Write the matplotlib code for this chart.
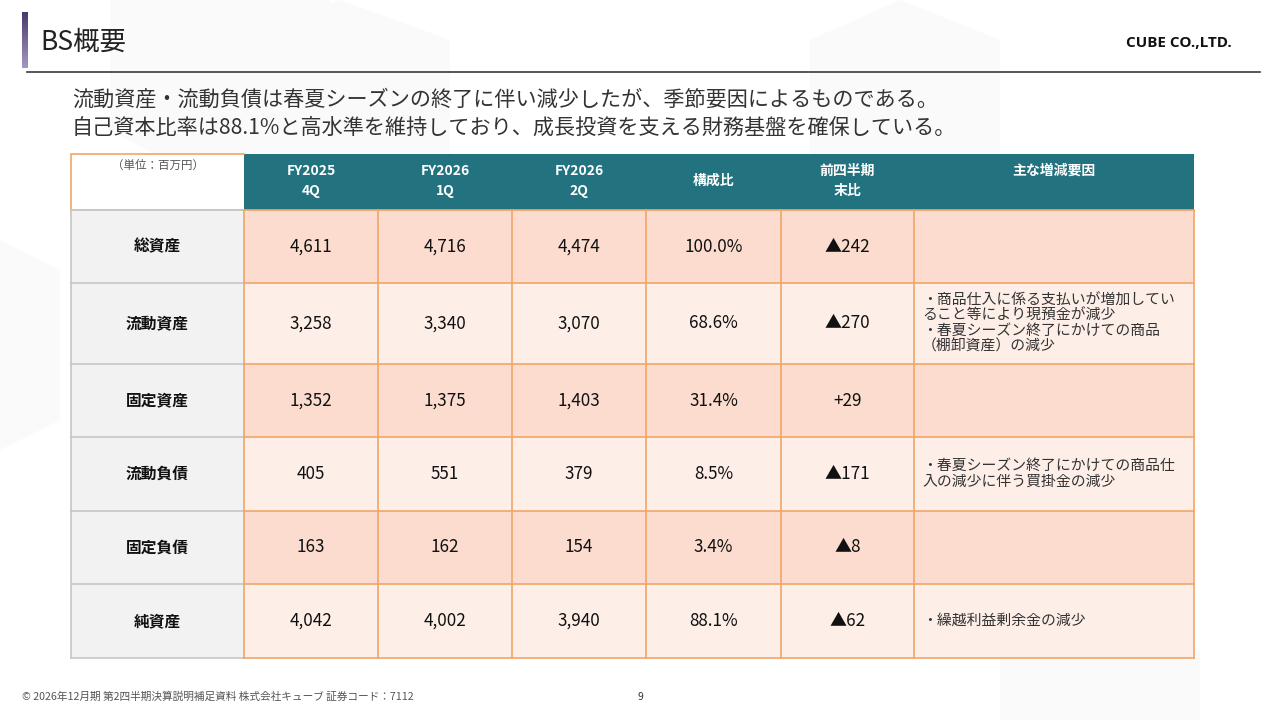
import numpy as np
import matplotlib.pyplot as plt
from matplotlib.patches import Rectangle, Polygon
from matplotlib.colors import LinearSegmentedColormap

plt.rcParams['font.family'] = ['Noto Sans CJK JP', 'DejaVu Sans']

# Table data (単位：百万円)
items = ["総資産", "流動資産", "固定資産", "流動負債", "固定負債", "純資産"]
fy2025_4q = [4611, 3258, 1352, 405, 163, 4042]
fy2026_1q = [4716, 3340, 1375, 551, 162, 4002]
fy2026_2q = [4474, 3070, 1403, 379, 154, 3940]
ratio = [100.0, 68.6, 31.4, 8.5, 3.4, 88.1]
qoq = [-242, -270, 29, -171, -8, -62]
notes = [
    "",
    "・商品仕入に係る支払いが増加してい\nること等により現預金が減少\n・春夏シーズン終了にかけての商品\n（棚卸資産）の減少",
    "",
    "・春夏シーズン終了にかけての商品仕\n入の減少に伴う買掛金の減少",
    "",
    "・繰越利益剰余金の減少",
]
headers = ["FY2025\n4Q", "FY2026\n1Q", "FY2026\n2Q", "構成比", "前四半期\n末比", "主な増減要因"]

title = "BS概要"
company = "CUBE CO.,LTD."
summary = ["流動資産・流動負債は春夏シーズンの終了に伴い減少したが、季節要因によるものである。",
           "自己資本比率は88.1%と高水準を維持しており、成長投資を支える財務基盤を確保している。"]
footer = "© 2026年12月期 第2四半期決算説明補足資料 株式会社キューブ 証券コード：7112"
page_no = "9"

# colours
teal = "#22737F"
peach_dark = "#FBDCCE"
peach_light = "#FDEEE8"
label_bg = "#F2F2F2"
orange = "#F2A566"
grey_line = "#C6C6C6"

fig = plt.figure(figsize=(12.8, 7.2), dpi=100)
ax = fig.add_axes([0, 0, 1, 1])
ax.set_xlim(0, 1280)
ax.set_ylim(720, 0)
ax.axis("off")

# faint background cubes
for pts in [[(110, 0), (330, 0), (330, 130), (220, 190), (110, 130)],
            [(230, 40), (340, 0), (450, 40), (450, 170), (340, 230), (230, 170)],
            [(900, 0), (1000, 40), (1000, 160), (900, 210), (810, 160), (810, 40)],
            [(1100, 600), (1200, 650), (1200, 720), (1000, 720), (1000, 650)],
            [(0, 240), (60, 270), (60, 420), (0, 450)]]:
    ax.add_patch(Polygon(pts, closed=True, facecolor="#FAFAFB", edgecolor="none", zorder=0))

# title bar with gradient
grad = np.linspace(0, 1, 100).reshape(-1, 1)
ax.imshow(grad, extent=[22, 28, 68, 12], cmap=LinearSegmentedColormap.from_list(
    "p", ["#4A3A6C", "#A597C2"]), aspect="auto", zorder=2)
ax.text(40, 42, title, fontsize=19, va="center", ha="left", color="#222222")
ax.text(1232, 43, company, fontsize=11, fontweight="bold", va="center", ha="right",
        family=["Open Sans", "DejaVu Sans"], color="#111111")
ax.plot([27, 1260], [72, 72], color="#3A3A3A", lw=1.2)

ax.text(72, 100, summary[0], fontsize=15.2, va="center", ha="left", color="#333333")
ax.text(72, 128, summary[1], fontsize=15.2, va="center", ha="left", color="#333333")

# table geometry
col_x = [71, 244, 378, 512, 646, 781, 914, 1194]
head_top, head_bot = 154, 210
row_y = [210, 283, 364, 437, 511, 584, 658]

# header
ax.add_patch(Rectangle((col_x[0], head_top), col_x[1] - col_x[0], head_bot - head_top,
                       facecolor="white", edgecolor="none", zorder=1))
ax.add_patch(Rectangle((col_x[1], head_top), col_x[-1] - col_x[1], head_bot - head_top,
                       facecolor=teal, edgecolor="none", zorder=1))
ax.plot([col_x[0], col_x[0], col_x[1]], [head_bot, head_top, head_top], color=orange, lw=1.2, zorder=3)
ax.plot([col_x[0], col_x[1]], [head_bot, head_bot], color=grey_line, lw=1.2, zorder=3)
ax.text((col_x[0] + col_x[1]) / 2, 165, "（単位：百万円）", fontsize=8.3, color="#555555",
        ha="center", va="center")
for i, h in enumerate(headers):
    cx = (col_x[i + 1] + col_x[i + 2]) / 2
    if i == len(headers) - 1:
        ax.text(cx, 171, h, fontsize=10, fontweight="bold", color="white", ha="center", va="center")
    else:
        ax.text(cx, 181, h, fontsize=10, fontweight="bold", color="white", ha="center", va="center",
                linespacing=1.5)

# body
for r, name in enumerate(items):
    y0, y1 = row_y[r], row_y[r + 1]
    cy = (y0 + y1) / 2
    fill = peach_dark if r % 2 == 0 else peach_light
    ax.add_patch(Rectangle((col_x[0], y0), col_x[1] - col_x[0], y1 - y0,
                           facecolor=label_bg, edgecolor="none", zorder=1))
    ax.add_patch(Rectangle((col_x[1], y0), col_x[-1] - col_x[1], y1 - y0,
                           facecolor=fill, edgecolor="none", zorder=1))
    ax.text((col_x[0] + col_x[1]) / 2, cy, name, fontsize=11.3, fontweight="bold",
            color="#111111", ha="center", va="center")
    vals = [f"{fy2025_4q[r]:,}", f"{fy2026_1q[r]:,}", f"{fy2026_2q[r]:,}", f"{ratio[r]:.1f}%",
            ("▲" + str(abs(qoq[r]))) if qoq[r] < 0 else ("+" + str(qoq[r]))]
    for c, v in enumerate(vals):
        ax.text((col_x[c + 1] + col_x[c + 2]) / 2, cy, v, fontsize=12.3, color="#111111",
                ha="center", va="center")
    if notes[r]:
        ax.text(922, cy, notes[r], fontsize=10.7, color="#333333", ha="left", va="center",
                linespacing=1.12)

# grid lines
for y in row_y:
    ax.plot([col_x[0], col_x[1]], [y, y], color=grey_line, lw=1.2, zorder=3)
    ax.plot([col_x[1], col_x[-1]], [y, y], color=orange, lw=1.2, zorder=3)
ax.plot([col_x[0], col_x[0]], [row_y[0], row_y[-1]], color=grey_line, lw=1.2, zorder=3)
for x in col_x[1:]:
    ax.plot([x, x], [row_y[0], row_y[-1]], color=orange, lw=1.2, zorder=3)

# footer
ax.text(22, 697, footer, fontsize=7.7, color="#555555", ha="left", va="center")
ax.text(640, 697, page_no, fontsize=7.5, color="#333333", ha="center", va="center")

fig.savefig("out.png", dpi=100)
